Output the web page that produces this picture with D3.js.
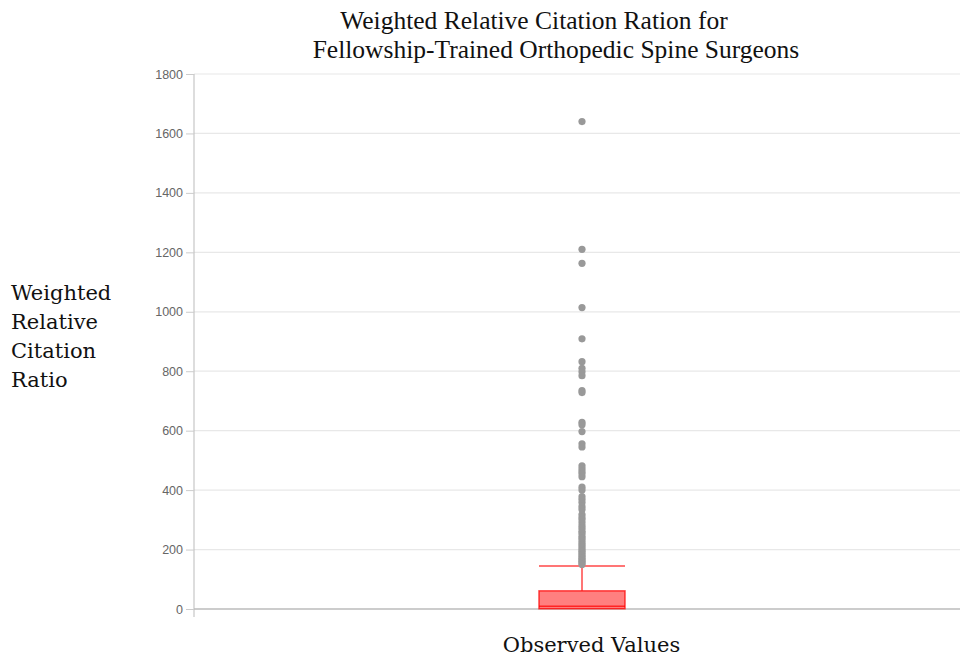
<!DOCTYPE html>
<html><head><meta charset="utf-8">
<script src="https://cdn.jsdelivr.net/npm/d3@7"></script>
<style>body{margin:0;background:#fff}svg{display:block}</style>
</head><body><svg id="c" width="960" height="658"></svg>
<script>
const titleLines = ["Weighted Relative Citation Ration for", "Fellowship-Trained Orthopedic Spine Surgeons"];
const yLabelLines = ["Weighted", "Relative", "Citation", "Ratio"];
const xLabel = "Observed Values";
const yTicks = [0, 200, 400, 600, 800, 1000, 1200, 1400, 1600, 1800];
const boxStats = {min: 0, q1: 1, median: 9, q3: 61, whiskerHigh: 145};
const outliers = [1640, 1210, 1163, 1014, 909, 832, 810, 798, 785, 735, 728, 628, 620, 597, 556, 545,
  482, 472, 463, 455, 445, 410, 400, 378, 368, 358, 345, 335, 318, 308, 300, 290, 280, 272, 262,
  255, 245, 238, 230, 222, 215, 208, 200, 194, 188, 182, 176, 170, 165, 160, 155, 150];

const svg = d3.select("#c");
const L = 194, R = 970, T = 74, B = 609;
const y = d3.scaleLinear().domain([0, 1800]).range([B, T]);
const x = d3.scaleBand().domain([xLabel]).range([L, R]).paddingInner(0).paddingOuter(0.445);

// gridlines
svg.append("g").selectAll("line").data(yTicks.filter(d => d > 0)).join("line")
  .attr("x1", L).attr("x2", 960).attr("y1", d => y(d)).attr("y2", d => y(d))
  .attr("stroke", "#e8e8e8").attr("stroke-width", 1.2);

// y axis
const ya = svg.append("g").attr("transform", `translate(${L},0)`)
  .call(d3.axisLeft(y).tickValues(yTicks).tickSize(8).tickPadding(3).tickFormat(d3.format("d")));
ya.select(".domain").attr("stroke", "#bbb").attr("d", `M0,${T}V${B+8}`);
ya.selectAll(".tick line").attr("stroke", "#ccc");
ya.selectAll(".tick text").attr("fill", "#666").style("font-family", "Liberation Sans, Arial, sans-serif").style("font-size", "12.5px");

// x axis baseline
svg.append("line").attr("x1", L).attr("x2", 960).attr("y1", B).attr("y2", B)
  .attr("stroke", "#bbb").attr("stroke-width", 1.5);

const cx = x(xLabel) + x.bandwidth() / 2;
const bw = 86;
const red = "rgba(255,0,0,0.72)";

// whisker
svg.append("line").attr("x1", cx).attr("x2", cx).attr("y1", y(boxStats.q3)).attr("y2", y(boxStats.whiskerHigh))
  .attr("stroke", red).attr("stroke-width", 1.5);
svg.append("line").attr("x1", cx - bw/2).attr("x2", cx + bw/2).attr("y1", y(boxStats.whiskerHigh)).attr("y2", y(boxStats.whiskerHigh))
  .attr("stroke", red).attr("stroke-width", 1.5);
// box
svg.append("rect").attr("x", cx - bw/2).attr("width", bw)
  .attr("y", y(boxStats.q3)).attr("height", y(boxStats.q1) - y(boxStats.q3))
  .attr("fill", "rgba(255,0,0,0.5)").attr("stroke", red).attr("stroke-width", 1.5);
svg.append("line").attr("x1", cx - bw/2).attr("x2", cx + bw/2).attr("y1", y(boxStats.median)).attr("y2", y(boxStats.median))
  .attr("stroke", red).attr("stroke-width", 1.5);

// outliers
svg.append("g").selectAll("circle").data(outliers).join("circle")
  .attr("cx", cx).attr("cy", d => y(d)).attr("r", 3.6).attr("fill", "#999");

// title
svg.append("g").selectAll("text").data(titleLines).join("text")
  .attr("x", (d, i) => i === 0 ? 534 : 556).attr("y", (d, i) => 29 + i * 28.5)
  .attr("text-anchor", "middle").attr("fill", "#111")
  .style("font-family", "Liberation Serif, Times New Roman, serif").style("font-size", "25.5px")
  .text(d => d);

// y label
svg.append("g").selectAll("text").data(yLabelLines).join("text")
  .attr("x", 11).attr("y", (d, i) => 300 + i * 29)
  .attr("fill", "#111")
  .style("font-family", "DejaVu Serif, serif").style("font-size", "21px")
  .text(d => d);

// x label
svg.append("text").attr("x", 591.5).attr("y", 652).attr("text-anchor", "middle")
  .attr("fill", "#111").style("font-family", "DejaVu Serif, serif").style("font-size", "21px")
  .text(xLabel);
</script></body></html>
